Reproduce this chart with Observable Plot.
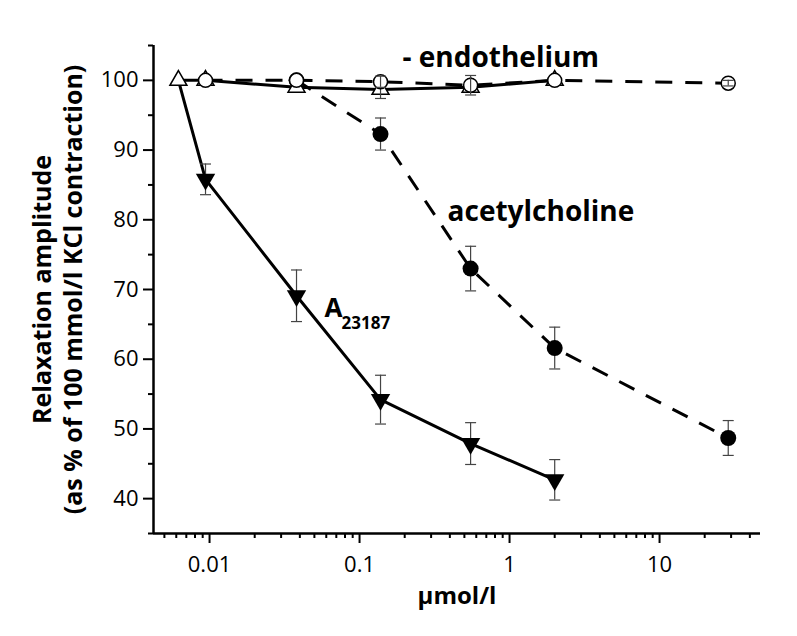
<!DOCTYPE html>
<html>
<head>
<meta charset="utf-8">
<script src="https://cdn.jsdelivr.net/npm/d3@7"></script>
<script src="https://cdn.jsdelivr.net/npm/@observablehq/plot@0.6"></script>
<style>
  body { margin: 0; background: #fff; }
  svg { display: block; }
</style>
</head>
<body>
<div id="chart"></div>
<script>
// ---- data (µmol/l, % relaxation, SEM) ----
const a23187Dose = [0.0062, 0.0094, 0.038, 0.138, 0.55, 2.0];
const a23187Value = [100, 85.8, 69.1, 54.2, 47.9, 42.7];
const a23187Error = [0, 2.2, 3.7, 3.5, 3.0, 2.9];

const a23187NoEndoDose = [0.0062, 0.0094, 0.038, 0.138, 0.55, 2.0];
const a23187NoEndoValue = [100, 100, 99.0, 98.7, 99.0, 100];
const a23187NoEndoError = [0, 0, 0, 1.3, 0, 0];

const achDose = [0.038, 0.138, 0.55, 2.0, 28.7];
const achValue = [100, 92.3, 73.0, 61.6, 48.7];
const achError = [0, 2.3, 3.2, 3.0, 2.5];

const achNoEndoDose = [0.0094, 0.038, 0.138, 0.55, 2.0, 28.7];
const achNoEndoValue = [100, 100, 99.8, 99.3, 100, 99.6];
const achNoEndoError = [0, 0, 0.8, 1.4, 0, 0.4];

const xTickValues = [0.01, 0.1, 1, 10];
const xTickLabels = ["0.01", "0.1", "1", "10"];
const yTickValues = [40, 50, 60, 70, 80, 90, 100];
const xDomain = [0.00423, 47.1];
const yDomain = [35, 105];

const xTitle = "µmol/l";
const yTitle1 = "Relaxation amplitude";
const yTitle2 = "(as % of 100 mmol/l KCl contraction)";
const labelEndo = "- endothelium";
const labelAch = "acetylcholine";
const labelA = "A";
const labelASub = "23187";

// ---- build tables ----
const rows = (xs, ys, es) => xs.map((x, i) => ({x, y: ys[i], e: es[i]}));
const A = rows(a23187Dose, a23187Value, a23187Error);
const An = rows(a23187NoEndoDose, a23187NoEndoValue, a23187NoEndoError);
const C = rows(achDose, achValue, achError);
const Cn = rows(achNoEndoDose, achNoEndoValue, achNoEndoError);

const minorX = d3.scaleLog().domain(xDomain).ticks().filter(t => !xTickValues.some(v => Math.abs(v - t) / v < 1e-9));
const minorY = d3.range(yDomain[0], yDomain[1] + 1, 10);

const cap = {draw(ctx) { ctx.moveTo(-5.5, 0); ctx.lineTo(5.5, 0); }};
const downTri = {draw(ctx, size) {
  const y = Math.sqrt(size / (3 * Math.sqrt(3)));
  ctx.moveTo(0, 2 * y); ctx.lineTo(-Math.sqrt(3) * y, -y); ctx.lineTo(Math.sqrt(3) * y, -y); ctx.closePath();
}};

const errColor = "#444";
const errMarks = (data) => {
  const d = data.filter(r => r.e > 0);
  return [
    Plot.ruleX(d, {x: "x", y1: r => r.y - r.e, y2: r => r.y + r.e, stroke: errColor, strokeWidth: 1.2}),
    Plot.dot(d, {x: "x", y: r => r.y + r.e, symbol: cap, r: 3, stroke: errColor, strokeWidth: 1.2, fill: "none"}),
    Plot.dot(d, {x: "x", y: r => r.y - r.e, symbol: cap, r: 3, stroke: errColor, strokeWidth: 1.2, fill: "none"})
  ];
};

const chart = Plot.plot({
  width: 797,
  height: 636,
  marginLeft: 153,
  marginRight: 37,
  marginTop: 45,
  marginBottom: 103,
  x: {type: "log", domain: xDomain, label: null},
  y: {domain: yDomain, label: null},
  style: {fontFamily: "'Open Sans', sans-serif", fontSize: "22px", color: "black", background: "white"},
  marks: [
    // axes
    Plot.axisX(minorX, {tickSize: 5, strokeWidth: 2, tickFormat: () => "", label: null}),
    Plot.axisX(xTickValues, {tickSize: 10, tickPadding: 13, strokeWidth: 2, fontSize: 22,
      tickFormat: d => xTickLabels[xTickValues.indexOf(d)], label: null}),
    Plot.axisY(minorY, {tickSize: 5, strokeWidth: 2, tickFormat: () => "", label: null}),
    Plot.axisY(yTickValues, {tickSize: 10, tickPadding: 5, strokeWidth: 2, fontSize: 22, label: null}),
    Plot.ruleX([xDomain[0]], {y1: yDomain[0], y2: yDomain[1], strokeWidth: 2.5}),
    Plot.ruleY([yDomain[0]], {strokeWidth: 2.5}),

    // lines
    Plot.line(A, {x: "x", y: "y", stroke: "black", strokeWidth: 3}),
    Plot.line(An, {x: "x", y: "y", stroke: "black", strokeWidth: 3}),
    Plot.line(C, {x: "x", y: "y", stroke: "black", strokeWidth: 3, strokeDasharray: "17,13", strokeLinecap: "butt"}),
    Plot.line(Cn, {x: "x", y: "y", stroke: "black", strokeWidth: 3, strokeDasharray: "17,13", strokeLinecap: "butt"}),

    // filled series
    ...errMarks(A),
    ...errMarks(C),
    Plot.dot(A.slice(1), {x: "x", y: "y", symbol: downTri, r: 7.2, fill: "black", stroke: "none"}),
    Plot.dot(C, {x: "x", y: "y", r: 8, fill: "black", stroke: "none"}),

    // open series (without endothelium)
    Plot.dot(An, {x: "x", y: "y", symbol: "triangle", r: 6.3, fill: "white", stroke: "black", strokeWidth: 1.5}),
    ...errMarks(An),
    Plot.dot(Cn, {x: "x", y: "y", r: 7, fill: "white", stroke: "black", strokeWidth: 1.5}),
    ...errMarks(Cn),

    // annotations
    Plot.text([Cn[2]], {x: "x", y: "y", text: () => labelEndo, textAnchor: "start", lineAnchor: "middle",
      dx: 22, dy: -24, fontSize: 28, fontWeight: "bold"}),
    Plot.text([C[2]], {x: "x", y: "y", text: () => labelAch, textAnchor: "start", lineAnchor: "middle",
      dx: -23, dy: -57, fontSize: 28, fontWeight: "bold"}),
    Plot.text([A[2]], {x: "x", y: "y", text: () => labelA, textAnchor: "start", lineAnchor: "middle",
      dx: 28, dy: 13, fontSize: 26, fontWeight: "bold"}),
    Plot.text([A[2]], {x: "x", y: "y", text: () => labelASub, textAnchor: "start", lineAnchor: "middle",
      dx: 45, dy: 28, fontSize: 17, fontWeight: "bold"}),

    // axis titles
    Plot.text([xTitle], {frameAnchor: "bottom", lineAnchor: "middle", dy: 63, fontSize: 24, fontWeight: "bold"}),
    Plot.text([yTitle1], {frameAnchor: "left", rotate: -90, lineAnchor: "middle", textAnchor: "middle", dx: -111, fontSize: 25, fontWeight: "bold"}),
    Plot.text([yTitle2], {frameAnchor: "left", rotate: -90, lineAnchor: "middle", textAnchor: "middle", dx: -80, fontSize: 25, fontWeight: "bold"})
  ]
});
document.getElementById("chart").append(chart);
</script>
</body>
</html>
